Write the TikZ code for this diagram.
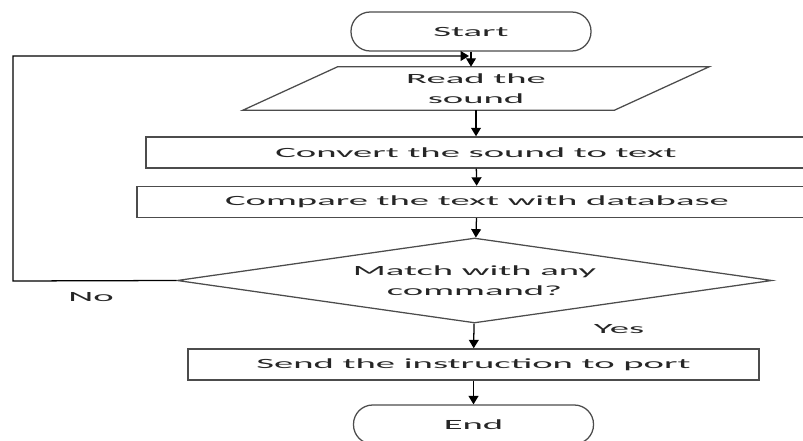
\documentclass[tikz,border=0pt]{standalone}
\usepackage{fontspec}
\setmainfont[FakeStretch=2.75]{Carlito}
\usetikzlibrary{shapes.geometric,arrows.meta}
\tikzset{
  terminal/.style={draw=black!70,line width=0.9pt,rounded corners=4.8mm,minimum width=60mm,minimum height=9.75mm,inner sep=0},
  process/.style={draw=black!70,line width=0.9pt,minimum height=7.8mm,inner sep=0},
  arrow/.style={line width=0.9pt,-{Triangle[width=7pt,length=6pt]}},
}
\begin{document}
\begin{tikzpicture}[x=0.25mm,y=-0.25mm,font=\fontsize{10}{14}\selectfont,text=black!85]
\clip (0,0) rectangle (803,441);
\node[terminal] (start) at (471,31.5){Start};
\node[minimum width=116.5mm,minimum height=10.75mm,inner sep=0,align=center] (read) at (476,88.5){Read the\\sound};
\node[process,minimum width=165mm] (conv) at (476,152.5){Convert the sound to text};
\node[process,minimum width=170mm] (comp) at (477,202){Compare the text with database};
\node[draw=black!70,line width=0.9pt,diamond,aspect=7,minimum width=148.75mm,minimum height=21.25mm,inner sep=0,align=center] (match) at (474.5,280.5){Match with any\\command?};
\node[process,minimum width=142.75mm] (send) at (473.5,364.5){Send the instruction to port};
\node[terminal] (end) at (473.5,424.5){End};
\node (no) at (91,297){No};
\node (yes) at (619,329){Yes};
\coordinate (back) at (13,281);
\coordinate (join) at (469,56);

\draw[draw=black!70,line width=0.9pt] ([xshift=23.75mm]read.north west) -- (read.north east) -- ([xshift=-23.75mm]read.south east) -- (read.south west) -- cycle;

\draw[arrow] (start.south) -- (start.south |- read.north);
\draw[arrow] (read) -- (conv);
\draw[arrow] (conv) -- (comp);
\draw[arrow] (comp) -- (match);
\draw[arrow] (match) -- (send);
\draw[arrow] (send) -- (end);
\draw[arrow] (match.west) -- (back) |- (join);
\end{tikzpicture}
\end{document}
